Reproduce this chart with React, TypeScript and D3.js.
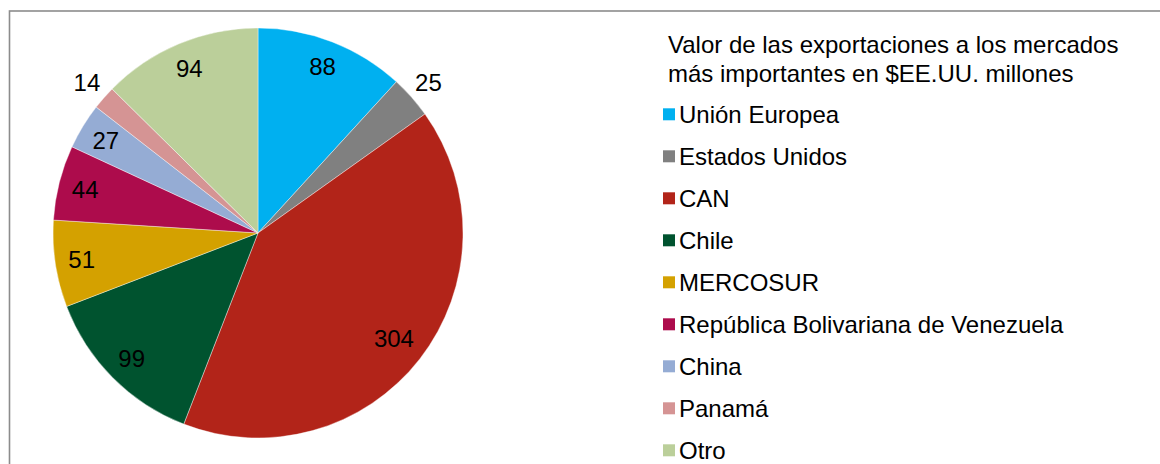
import { useEffect, useRef } from "react";
import * as d3 from "d3";

const categories = [
  "Unión Europea",
  "Estados Unidos",
  "CAN",
  "Chile",
  "MERCOSUR",
  "República Bolivariana de Venezuela",
  "China",
  "Panamá",
  "Otro",
];
const values = [88, 25, 304, 99, 51, 44, 27, 14, 94];
const colors = [
  "#00B0F0",
  "#808080",
  "#B22419",
  "#00532F",
  "#D4A100",
  "#AD0C4C",
  "#95ACD4",
  "#D59494",
  "#BBCF9A",
];
const titleLines = [
  "Valor de las exportaciones a los mercados",
  "más importantes en $EE.UU. millones",
];

const width = 1160;
const height = 464;

const App = () => {
  const svgRef = useRef<SVGSVGElement | null>(null);

  useEffect(() => {
    const svg = d3.select(svgRef.current);
    svg.selectAll("*").remove();

    const font = "'Liberation Sans', Arial, sans-serif";

    // chart frame (only top and left edges are visible)
    svg
      .append("rect")
      .attr("x", 9.5)
      .attr("y", 11)
      .attr("width", width + 20)
      .attr("height", height + 20)
      .attr("fill", "#fff")
      .attr("stroke", "#8c8c8c")
      .attr("stroke-width", 1.6);

    const cx = 258;
    const cy = 233;
    const r = 205;

    const data = categories.map((name, i) => ({ name, value: values[i], color: colors[i] }));

    const pie = d3
      .pie<{ name: string; value: number; color: string }>()
      .sort(null)
      .value((d) => d.value);
    const arcs = pie(data);

    const arc = d3
      .arc<d3.PieArcDatum<{ name: string; value: number; color: string }>>()
      .innerRadius(0)
      .outerRadius(r);

    const g = svg.append("g").attr("transform", `translate(${cx},${cy})`);

    g.selectAll("path")
      .data(arcs)
      .join("path")
      .attr("d", arc)
      .attr("fill", (d) => d.data.color)
      .attr("stroke", "#fff")
      .attr("stroke-width", 0.4);

    // small slices get their label outside the pie
    const labelPos = (d: d3.PieArcDatum<{ value: number }>) => {
      const a = (d.startAngle + d.endAngle) / 2;
      const share = (d.endAngle - d.startAngle) / (2 * Math.PI);
      const rr = share < 0.035 ? r * 1.11 : share > 0.3 ? r * 0.84 : r * 0.87;
      return [Math.sin(a) * rr, -Math.cos(a) * rr];
    };

    g.selectAll("text")
      .data(arcs)
      .join("text")
      .attr("x", (d) => labelPos(d)[0])
      .attr("y", (d) => labelPos(d)[1])
      .attr("text-anchor", "middle")
      .attr("dominant-baseline", "central")
      .attr("font-family", font)
      .attr("font-size", 24)
      .attr("fill", "#000")
      .text((d) => d.data.value);

    // legend title
    svg
      .append("g")
      .selectAll("text")
      .data(titleLines)
      .join("text")
      .attr("x", 668)
      .attr("y", (d, i) => 53 + i * 28.5)
      .attr("font-family", font)
      .attr("font-size", 24)
      .attr("fill", "#000")
      .text((d) => d);

    const legend = svg
      .append("g")
      .selectAll("g")
      .data(data)
      .join("g")
      .attr("transform", (d, i) => `translate(663,${114.3 + i * 42})`);

    legend
      .append("rect")
      .attr("x", 0)
      .attr("y", -6)
      .attr("width", 12)
      .attr("height", 12)
      .attr("fill", (d) => d.color);

    legend
      .append("text")
      .attr("x", 16)
      .attr("y", 8.3)
      .attr("font-family", font)
      .attr("font-size", 24)
      .attr("fill", "#000")
      .text((d) => d.name);
  }, []);

  return (
    <svg
      ref={svgRef}
      width={width}
      height={height}
      style={{ position: "absolute", left: 0, top: 0, display: "block" }}
    />
  );
};

export default App;
